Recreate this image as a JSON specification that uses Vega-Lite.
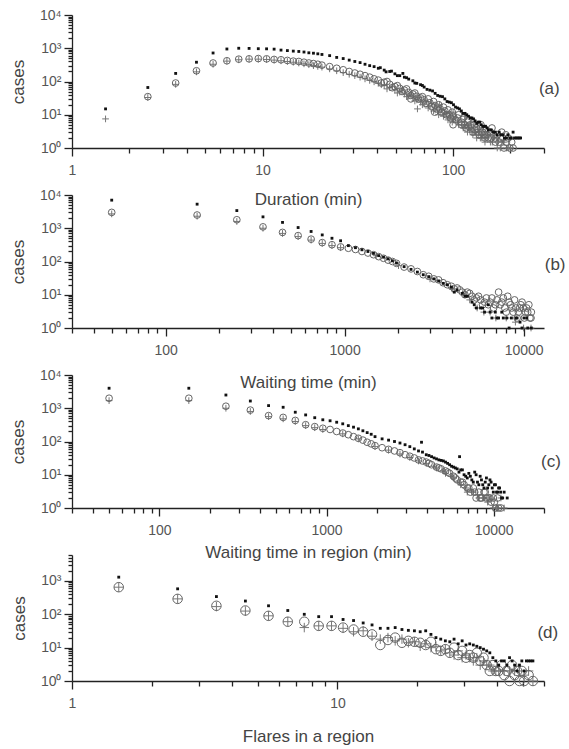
{
"$schema": "https://vega.github.io/schema/vega-lite/v6.json",
"padding": {"left": 9, "top": 8, "right": 0, "bottom": 4},
"bounds": "flush",
"spacing": 47,
"config": {
  "view": {"stroke": null},
  "font": "Liberation Sans",
  "axis": {"labelFont": "Liberation Sans", "titleFont": "Liberation Sans", "labelColor": "#555", "titleColor": "#444", "domainColor": "#222", "tickColor": "#222", "grid": false, "titleFontWeight": "normal", "labelFontSize": 14, "titleFontSize": 17, "labelOverlap": false, "labelFlush": false, "domainWidth": 1.3, "tickWidth": 1.3},
  "axisY": {"labelPadding": 3, "titlePadding": 12},
  "axisX": {"labelPadding": 7}
},
"datasets": {
"af": [{"x":1.5,"y":15},{"x":2.5,"y":66},{"x":3.5,"y":175},{"x":4.5,"y":380},{"x":5.5,"y":720},{"x":6.5,"y":950},{"x":7.5,"y":1000},{"x":8.5,"y":990},{"x":9.5,"y":970},{"x":10.5,"y":960},{"x":11.5,"y":940},{"x":12.5,"y":880},{"x":13.5,"y":850},{"x":14.5,"y":820},{"x":15.5,"y":800},{"x":16.5,"y":770},{"x":17.5,"y":730},{"x":18.5,"y":710},{"x":19.5,"y":680},{"x":20.5,"y":650},{"x":22.5,"y":600},{"x":24.5,"y":530},{"x":26.5,"y":490},{"x":28.5,"y":440},{"x":30.5,"y":400},{"x":32.5,"y":370},{"x":34.5,"y":330},{"x":36.5,"y":300},{"x":38.5,"y":280},{"x":40.5,"y":250},{"x":43.5,"y":220},{"x":46.5,"y":200},{"x":49.5,"y":170},{"x":52.5,"y":150},{"x":54.5,"y":175},{"x":55.5,"y":135},{"x":58.5,"y":118},{"x":61.5,"y":105},{"x":64.5,"y":88},{"x":67.5,"y":80},{"x":70.5,"y":68},{"x":75.5,"y":55},{"x":80.5,"y":44},{"x":85.5,"y":36},{"x":90.5,"y":30},{"x":95.5,"y":24},{"x":100.5,"y":20},{"x":105.5,"y":16},{"x":110.5,"y":13},{"x":115.5,"y":11},{"x":120.5,"y":9},{"x":125.5,"y":8},{"x":130.5,"y":6.5},{"x":135.5,"y":6},{"x":140.5,"y":5},{"x":145.5,"y":4.5},{"x":150.5,"y":4},{"x":158.5,"y":3.5},{"x":166.5,"y":3},{"x":174.5,"y":3},{"x":182.5,"y":2.5},{"x":190.5,"y":2},{"x":198.5,"y":2},{"x":206.5,"y":3},{"x":214.5,"y":2},{"x":222.5,"y":2},
 {"x":41.5,"y":260},{"x":44.5,"y":195},{"x":47.5,"y":205},{"x":51,"y":150},{"x":57,"y":130},{"x":63,"y":90},{"x":69,"y":76},{"x":73,"y":58},{"x":78,"y":52},{"x":83,"y":38},{"x":88,"y":35},{"x":93,"y":25},{"x":98,"y":23},{"x":103,"y":17},{"x":108,"y":15},{"x":113,"y":11},{"x":118,"y":10},{"x":123,"y":8},{"x":128,"y":7.5},{"x":133,"y":5.5},{"x":138,"y":6},{"x":143,"y":4.5},{"x":148,"y":4.5},{"x":153,"y":3.5},{"x":162,"y":3},{"x":170,"y":2.5},{"x":178,"y":2.5},{"x":186,"y":2},{"x":194,"y":2.5},{"x":202,"y":2},{"x":210,"y":2},{"x":218,"y":2},{"x":226,"y":2}],
"ac": [{"x":2.5,"y":35},{"x":3.5,"y":90},{"x":4.5,"y":210},{"x":5.5,"y":360},{"x":6.5,"y":420},{"x":7.5,"y":470},{"x":8.5,"y":480},{"x":9.5,"y":490},{"x":10.5,"y":480},{"x":11.5,"y":460},{"x":12.5,"y":450},{"x":13.5,"y":430},{"x":14.5,"y":410},{"x":15.5,"y":400},{"x":16.5,"y":380},{"x":17.5,"y":360},{"x":18.5,"y":345},{"x":19.5,"y":330},{"x":20.5,"y":310},{"x":22.5,"y":280},{"x":24.5,"y":250},{"x":26.5,"y":225},{"x":28.5,"y":200},{"x":30.5,"y":180},{"x":32.5,"y":165},{"x":34.5,"y":150},{"x":36.5,"y":135},{"x":38.5,"y":120},{"x":40.5,"y":110},{"x":43.5,"y":95},{"x":46.5,"y":82},{"x":49.5,"y":70},{"x":52.5,"y":62},{"x":55.5,"y":55},{"x":58.5,"y":47},{"x":60,"y":30},{"x":61.5,"y":42},{"x":64.5,"y":36},{"x":67.5,"y":32},{"x":70.5,"y":28},{"x":75.5,"y":23},{"x":80,"y":12},{"x":80.5,"y":19},{"x":85.5,"y":15},{"x":90.5,"y":13},{"x":95.5,"y":10},{"x":100,"y":5},{"x":100.5,"y":9},{"x":105.5,"y":8},{"x":110.5,"y":6},{"x":115.5,"y":5},{"x":120,"y":7},{"x":120.5,"y":4.5},{"x":125.5,"y":4},{"x":130.5,"y":3.5},{"x":135.5,"y":3},{"x":140,"y":5},{"x":140.5,"y":3},{"x":145.5,"y":2.5},{"x":150.5,"y":2.5},{"x":158.5,"y":2},{"x":160,"y":4},{"x":166.5,"y":2},{"x":174.5,"y":1.5},{"x":180,"y":3},{"x":182.5,"y":2},{"x":190.5,"y":1.5},{"x":198.5,"y":1},{"x":206.5,"y":1},
 {"x":42,"y":90},{"x":45,"y":100},{"x":48,"y":65},{"x":51,"y":75},{"x":54,"y":50},{"x":57,"y":60},{"x":60,"y":38},{"x":63,"y":45},{"x":66,"y":30},{"x":69,"y":35},{"x":72,"y":22},{"x":74,"y":30},{"x":77,"y":18},{"x":79,"y":25},{"x":82,"y":15},{"x":84,"y":20},{"x":87,"y":12},{"x":89,"y":17},{"x":92,"y":10},{"x":94,"y":14},{"x":97,"y":8},{"x":99,"y":12},{"x":103,"y":7},{"x":107,"y":10},{"x":111,"y":5},{"x":113,"y":8},{"x":117,"y":4},{"x":119,"y":6},{"x":123,"y":5},{"x":127,"y":3},{"x":129,"y":5},{"x":133,"y":4},{"x":137,"y":2.5},{"x":139,"y":4},{"x":143,"y":3},{"x":147,"y":2},{"x":149,"y":3.5},{"x":153,"y":2},{"x":157,"y":3},{"x":163,"y":2.5},{"x":167,"y":1.5},{"x":171,"y":2.5},{"x":177,"y":2},{"x":185,"y":1},{"x":189,"y":2.5},{"x":195,"y":2},{"x":203,"y":1.5}],
"ap": [{"x":1.5,"y":7.5},{"x":2.5,"y":33},{"x":3.5,"y":82},{"x":4.5,"y":195},{"x":5.5,"y":330},{"x":6.5,"y":410},{"x":7.5,"y":450},{"x":8.5,"y":470},{"x":9.5,"y":470},{"x":10.5,"y":460},{"x":11.5,"y":440},{"x":12.5,"y":420},{"x":13.5,"y":400},{"x":14.5,"y":380},{"x":15.5,"y":360},{"x":16.5,"y":340},{"x":17.5,"y":320},{"x":18.5,"y":300},{"x":19.5,"y":285},{"x":20.5,"y":270},{"x":22.5,"y":240},{"x":24.5,"y":210},{"x":26.5,"y":185},{"x":28.5,"y":165},{"x":30.5,"y":150},{"x":32.5,"y":135},{"x":34.5,"y":120},{"x":36.5,"y":108},{"x":38.5,"y":98},{"x":40.5,"y":88},{"x":43.5,"y":75},{"x":46.5,"y":65},{"x":49.5,"y":56},{"x":52.5,"y":48},{"x":55.5,"y":42},{"x":58.5,"y":36},{"x":61.5,"y":32},{"x":64.5,"y":28},{"x":65,"y":15},{"x":67.5,"y":24},{"x":70.5,"y":21},{"x":75.5,"y":18},{"x":80.5,"y":14},{"x":85,"y":20},{"x":85.5,"y":12},{"x":90.5,"y":10},{"x":95.5,"y":8},{"x":100,"y":12},{"x":100.5,"y":7},{"x":105.5,"y":6},{"x":110.5,"y":5},{"x":115,"y":9},{"x":115.5,"y":4},{"x":120.5,"y":4},{"x":125.5,"y":3},{"x":130,"y":6},{"x":130.5,"y":3},{"x":135.5,"y":2.5},{"x":140.5,"y":2},{"x":145.5,"y":2},{"x":150.5,"y":2},{"x":160.5,"y":1.5},{"x":170.5,"y":1},{"x":180.5,"y":1.5},{"x":190.5,"y":1},{"x":200.5,"y":1},
 {"x":42,"y":80},{"x":45,"y":60},{"x":48,"y":70},{"x":51,"y":45},{"x":54,"y":55},{"x":57,"y":35},{"x":60,"y":42},{"x":63,"y":26},{"x":66,"y":33},{"x":69,"y":20},{"x":72,"y":25},{"x":74,"y":16},{"x":77,"y":22},{"x":79,"y":13},{"x":82,"y":17},{"x":84,"y":10},{"x":87,"y":14},{"x":89,"y":9},{"x":92,"y":11},{"x":94,"y":7},{"x":97,"y":9},{"x":99,"y":6},{"x":103,"y":8},{"x":107,"y":5},{"x":111,"y":6},{"x":113,"y":4},{"x":117,"y":5},{"x":119,"y":3},{"x":123,"y":4},{"x":127,"y":2.5},{"x":129,"y":3},{"x":133,"y":2},{"x":137,"y":3},{"x":139,"y":2},{"x":143,"y":2.5},{"x":147,"y":1.5},{"x":153,"y":2.5},{"x":157,"y":1.5},{"x":163,"y":2},{"x":171,"y":1.5},{"x":177,"y":1},{"x":185,"y":1.5},{"x":195,"y":1}],
"bf": [{"x":50,"y":7000},{"x":150,"y":5300},{"x":250,"y":3400},{"x":350,"y":2200},{"x":450,"y":1500},{"x":550,"y":1050},{"x":650,"y":800},{"x":750,"y":630},{"x":850,"y":500},{"x":950,"y":420},{"x":1050,"y":300},{"x":1150,"y":260},{"x":1250,"y":225},{"x":1350,"y":200},{"x":1450,"y":175},{"x":1550,"y":150},{"x":1650,"y":135},{"x":1750,"y":120},{"x":1850,"y":105},{"x":1950,"y":90},{"x":2150,"y":70},{"x":2350,"y":58},{"x":2550,"y":48},{"x":2750,"y":40},{"x":2950,"y":35},{"x":3150,"y":30},{"x":3350,"y":26},{"x":3550,"y":22},{"x":3750,"y":20},{"x":3950,"y":17},{"x":4250,"y":14},{"x":4550,"y":11},{"x":4850,"y":9},{"x":5150,"y":6},{"x":5450,"y":4},{"x":5750,"y":4},{"x":6050,"y":3},{"x":6350,"y":5},{"x":6650,"y":2},{"x":6950,"y":3},{"x":7250,"y":2},{"x":7550,"y":3},{"x":8050,"y":2},{"x":8550,"y":2},{"x":9050,"y":2},{"x":9550,"y":1.5},{"x":10050,"y":2},{"x":10550,"y":1},{"x":11050,"y":1},
 {"x":4100,"y":12},{"x":4700,"y":9},{"x":5300,"y":5},{"x":5900,"y":4},{"x":6500,"y":3},{"x":7100,"y":2},{"x":7700,"y":2},{"x":8300,"y":1},{"x":9200,"y":2},{"x":9800,"y":1},{"x":10400,"y":2}],
"bc": [{"x":50,"y":3000},{"x":150,"y":2500},{"x":250,"y":1800},{"x":350,"y":1100},{"x":450,"y":750},{"x":550,"y":600},{"x":650,"y":470},{"x":750,"y":370},{"x":850,"y":320},{"x":950,"y":275},{"x":1050,"y":250},{"x":1150,"y":230},{"x":1250,"y":200},{"x":1350,"y":180},{"x":1450,"y":160},{"x":1550,"y":140},{"x":1650,"y":125},{"x":1750,"y":110},{"x":1850,"y":100},{"x":1950,"y":88},{"x":2150,"y":68},{"x":2350,"y":60},{"x":2550,"y":50},{"x":2750,"y":40},{"x":2950,"y":36},{"x":3150,"y":30},{"x":3350,"y":28},{"x":3550,"y":23},{"x":3750,"y":20},{"x":3950,"y":18},{"x":4250,"y":16},{"x":4550,"y":12},{"x":4850,"y":12},{"x":5150,"y":9},{"x":5450,"y":8},{"x":5750,"y":7},{"x":6050,"y":6},{"x":6350,"y":5},{"x":6650,"y":8},{"x":6950,"y":5},{"x":7250,"y":12},{"x":7550,"y":6},{"x":7850,"y":4},{"x":8150,"y":9},{"x":8450,"y":5},{"x":8750,"y":3},{"x":9050,"y":4},{"x":9350,"y":3},{"x":9650,"y":5},{"x":9950,"y":4},{"x":10250,"y":3},{"x":10550,"y":3},{"x":10850,"y":2},{"x":11050,"y":3},
 {"x":4100,"y":15},{"x":4400,"y":14},{"x":4700,"y":10},{"x":5000,"y":11},{"x":5300,"y":7},{"x":5600,"y":9},{"x":5900,"y":5},{"x":6200,"y":8},{"x":6500,"y":6},{"x":6800,"y":4},{"x":7100,"y":7},{"x":7400,"y":5},{"x":7700,"y":8},{"x":8000,"y":3},{"x":8300,"y":6},{"x":8600,"y":4},{"x":8900,"y":7},{"x":9200,"y":2},{"x":9500,"y":4},{"x":9800,"y":6},{"x":10100,"y":2},{"x":10400,"y":4},{"x":10700,"y":5},{"x":11000,"y":2}],
"bp": [{"x":50,"y":2700},{"x":150,"y":2300},{"x":250,"y":1600},{"x":350,"y":1000},{"x":450,"y":700},{"x":550,"y":560},{"x":650,"y":440},{"x":750,"y":350},{"x":850,"y":300},{"x":950,"y":260},{"x":1500,"y":150},{"x":2000,"y":75},{"x":3000,"y":30},{"x":4000,"y":15},{"x":5000,"y":7},{"x":5500,"y":4},{"x":6000,"y":3},{"x":6500,"y":3},{"x":7000,"y":2},{"x":8000,"y":2},{"x":9000,"y":1.5},{"x":10000,"y":1},{"x":11000,"y":1}],
"cf": [{"x":50,"y":4000},{"x":150,"y":4000},{"x":250,"y":2500},{"x":350,"y":1650},{"x":450,"y":1200},{"x":550,"y":1070},{"x":650,"y":760},{"x":750,"y":630},{"x":850,"y":520},{"x":950,"y":450},{"x":1050,"y":420},{"x":1150,"y":380},{"x":1250,"y":340},{"x":1350,"y":300},{"x":1450,"y":270},{"x":1550,"y":240},{"x":1650,"y":210},{"x":1750,"y":185},{"x":1850,"y":165},{"x":1950,"y":140},{"x":2150,"y":120},{"x":2350,"y":110},{"x":2550,"y":100},{"x":2750,"y":90},{"x":2950,"y":80},{"x":3150,"y":70},{"x":3350,"y":60},{"x":3550,"y":52},{"x":3700,"y":95},{"x":3750,"y":48},{"x":3950,"y":40},{"x":4250,"y":35},{"x":4550,"y":30},{"x":4850,"y":27},{"x":5150,"y":24},{"x":5450,"y":20},{"x":5750,"y":17},{"x":6050,"y":15},{"x":6250,"y":35},{"x":6350,"y":14},{"x":6650,"y":10},{"x":6950,"y":8},{"x":7250,"y":9},{"x":7550,"y":6},{"x":7850,"y":10},{"x":8150,"y":5},{"x":8450,"y":7},{"x":8750,"y":4},{"x":9050,"y":8},{"x":9350,"y":5},{"x":9650,"y":6},{"x":9950,"y":3},{"x":10250,"y":5},{"x":10550,"y":3},{"x":10850,"y":4},{"x":11150,"y":2},{"x":11550,"y":3},{"x":12050,"y":2},
 {"x":4100,"y":38},{"x":4400,"y":32},{"x":4700,"y":28},{"x":5000,"y":26},{"x":5300,"y":22},{"x":5600,"y":18},{"x":5900,"y":16},{"x":6200,"y":12},{"x":6500,"y":14},{"x":6800,"y":9},{"x":7100,"y":11},{"x":7400,"y":7},{"x":7700,"y":12},{"x":8000,"y":6},{"x":8300,"y":9},{"x":8600,"y":5},{"x":8900,"y":6},{"x":9200,"y":4},{"x":9500,"y":7},{"x":9800,"y":4},{"x":10100,"y":5},{"x":10400,"y":3},{"x":10700,"y":4},{"x":11000,"y":3},{"x":11300,"y":2}],
"cc": [{"x":50,"y":2000},{"x":150,"y":2000},{"x":250,"y":1150},{"x":350,"y":880},{"x":450,"y":600},{"x":550,"y":530},{"x":650,"y":430},{"x":750,"y":320},{"x":850,"y":280},{"x":950,"y":250},{"x":1050,"y":230},{"x":1150,"y":200},{"x":1250,"y":180},{"x":1350,"y":160},{"x":1450,"y":140},{"x":1550,"y":125},{"x":1650,"y":110},{"x":1750,"y":95},{"x":1850,"y":85},{"x":1950,"y":75},{"x":2150,"y":65},{"x":2350,"y":58},{"x":2550,"y":52},{"x":2750,"y":46},{"x":2950,"y":40},{"x":3150,"y":36},{"x":3350,"y":32},{"x":3550,"y":28},{"x":3750,"y":26},{"x":3950,"y":24},{"x":4250,"y":20},{"x":4550,"y":17},{"x":4850,"y":15},{"x":5150,"y":13},{"x":5450,"y":11},{"x":5750,"y":9},{"x":6050,"y":7},{"x":6350,"y":6},{"x":6650,"y":5},{"x":6950,"y":4},{"x":7250,"y":3},{"x":7550,"y":4},{"x":7850,"y":2},{"x":8150,"y":3},{"x":8450,"y":2},{"x":8750,"y":3},{"x":9050,"y":2},{"x":9350,"y":2},{"x":9650,"y":1.5},{"x":9950,"y":2},{"x":10250,"y":1},{"x":10550,"y":2},{"x":11050,"y":1},
 {"x":4100,"y":22},{"x":4700,"y":16},{"x":5300,"y":12},{"x":5900,"y":8},{"x":6500,"y":6},{"x":7100,"y":4},{"x":7700,"y":3},{"x":8300,"y":2},{"x":8900,"y":3},{"x":9500,"y":2},{"x":10100,"y":1.5},{"x":10700,"y":1}],
"cp": [{"x":50,"y":1700},{"x":150,"y":1700},{"x":250,"y":1000},{"x":350,"y":800},{"x":450,"y":560},{"x":550,"y":480},{"x":650,"y":400},{"x":750,"y":300},{"x":850,"y":260},{"x":950,"y":230},{"x":1250,"y":170},{"x":1550,"y":120},{"x":1950,"y":70},{"x":2350,"y":55},{"x":2750,"y":42},{"x":3150,"y":33},{"x":3550,"y":26},{"x":3950,"y":22},{"x":4550,"y":16},{"x":5150,"y":11},{"x":5750,"y":8},{"x":6350,"y":5},{"x":6950,"y":3},{"x":7550,"y":3},{"x":8150,"y":2},{"x":8750,"y":2},{"x":9350,"y":2},{"x":9950,"y":1},{"x":10550,"y":1},{"x":11050,"y":2},{"x":11550,"y":1},
 {"x":4400,"y":18},{"x":5000,"y":13},{"x":5600,"y":9},{"x":6200,"y":6},{"x":6800,"y":4},{"x":7400,"y":3},{"x":8000,"y":2.5},{"x":8600,"y":2},{"x":9200,"y":1.5},{"x":10400,"y":1}],
"df": [{"x":1.5,"y":1300},{"x":2.5,"y":580},{"x":3.5,"y":340},{"x":4.5,"y":250},{"x":5.5,"y":180},{"x":6.5,"y":130},{"x":7.5,"y":100},{"x":8.5,"y":85},{"x":9.5,"y":85},{"x":10.5,"y":70},{"x":11.5,"y":65},{"x":12.5,"y":55},{"x":13.5,"y":48},{"x":14.5,"y":38},{"x":15.5,"y":38},{"x":16.5,"y":40},{"x":17.5,"y":35},{"x":18.5,"y":33},{"x":19.5,"y":32},{"x":20.5,"y":30},{"x":21.5,"y":32},{"x":22.5,"y":25},{"x":23.5,"y":20},{"x":24.5,"y":18},{"x":25.5,"y":16},{"x":26.5,"y":15},{"x":27.5,"y":18},{"x":28.5,"y":13},{"x":29.5,"y":16},{"x":30.5,"y":12},{"x":31.5,"y":13},{"x":32.5,"y":12},{"x":33.5,"y":11},{"x":34.5,"y":10},{"x":35.5,"y":9},{"x":36.5,"y":8},{"x":37.5,"y":7},{"x":38.5,"y":5},{"x":39.5,"y":4},{"x":40.5,"y":3},{"x":41.5,"y":4},{"x":42.5,"y":4},{"x":43.5,"y":3},{"x":44.5,"y":5},{"x":45.5,"y":4},{"x":46.5,"y":3},{"x":47.5,"y":2},{"x":48.5,"y":3},{"x":49.5,"y":4},{"x":50.5,"y":2},{"x":51.5,"y":4},{"x":52.5,"y":4},{"x":53.5,"y":4},{"x":54.5,"y":4}],
"dc": [{"x":1.5,"y":650},{"x":2.5,"y":290},{"x":3.5,"y":180},{"x":4.5,"y":130},{"x":5.5,"y":90},{"x":6.5,"y":60},{"x":7.5,"y":60},{"x":8.5,"y":45},{"x":9.5,"y":45},{"x":10.5,"y":40},{"x":11.5,"y":35},{"x":12.5,"y":30},{"x":13.5,"y":25},{"x":14.5,"y":12},{"x":15.5,"y":17},{"x":16.5,"y":20},{"x":17.5,"y":14},{"x":18.5,"y":16},{"x":19.5,"y":15},{"x":20.5,"y":14},{"x":21.5,"y":12},{"x":22.5,"y":15},{"x":23.5,"y":9},{"x":24.5,"y":8},{"x":25.5,"y":9},{"x":26.5,"y":7},{"x":27.5,"y":10},{"x":28.5,"y":6},{"x":29.5,"y":8},{"x":30.5,"y":5},{"x":31.5,"y":6},{"x":32.5,"y":5},{"x":33.5,"y":7},{"x":34.5,"y":4},{"x":35.5,"y":5},{"x":36.5,"y":3},{"x":37.5,"y":2},{"x":38.5,"y":3},{"x":39.5,"y":2},{"x":40.5,"y":2},{"x":41.5,"y":3},{"x":42.5,"y":1.5},{"x":43.5,"y":2},{"x":44.5,"y":1},{"x":45.5,"y":3},{"x":46.5,"y":1.5},{"x":47.5,"y":2},{"x":48.5,"y":1},{"x":49.5,"y":2},{"x":50.5,"y":1},{"x":52.5,"y":1.5},{"x":54.5,"y":1}],
"dp": [{"x":1.5,"y":650},{"x":2.5,"y":290},{"x":3.5,"y":170},{"x":4.5,"y":125},{"x":5.5,"y":90},{"x":6.5,"y":60},{"x":7.5,"y":40},{"x":8.5,"y":45},{"x":9.5,"y":45},{"x":10.5,"y":38},{"x":11.5,"y":30},{"x":12.5,"y":32},{"x":13.5,"y":22},{"x":14.5,"y":18},{"x":15.5,"y":20},{"x":16.5,"y":16},{"x":17.5,"y":18},{"x":18.5,"y":14},{"x":19.5,"y":15},{"x":20.5,"y":11},{"x":21.5,"y":13},{"x":22.5,"y":10},{"x":23.5,"y":11},{"x":24.5,"y":8},{"x":25.5,"y":9},{"x":26.5,"y":7},{"x":27.5,"y":6},{"x":28.5,"y":8},{"x":29.5,"y":5},{"x":30.5,"y":6},{"x":31.5,"y":5},{"x":32.5,"y":4},{"x":33.5,"y":5},{"x":34.5,"y":3},{"x":35.5,"y":4},{"x":36.5,"y":3},{"x":37.5,"y":3},{"x":38.5,"y":2},{"x":39.5,"y":2},{"x":40.5,"y":2},{"x":42.5,"y":2},{"x":44.5,"y":2},{"x":46.5,"y":2},{"x":48.5,"y":2},{"x":50.5,"y":1.5},{"x":52.5,"y":2},{"x":54.5,"y":1}],
"la": [{"t":"(a)","x":320,"y":60}], "lb": [{"t":"(b)","x":15000,"y":80}], "lc": [{"t":"(c)","x":22000,"y":25}], "ld": [{"t":"(d)","x":62,"y":28}]
},
"vconcat": [
  {"width": 472, "height": 133,
   "encoding": {
    "x": {"field": "x", "type": "quantitative", "scale": {"type": "log", "domain": [1, 300], "nice": false},
      "axis": {"title": "Duration (min)", "titlePadding": 14, "values": [1,2,3,4,5,6,7,8,9,10,20,30,40,50,60,70,80,90,100,200,300],
        "labelExpr": "abs(log(datum.value)/LN10-round(log(datum.value)/LN10))<0.001 ? format(datum.value,'d') : ''",
        "tickSize": {"condition": {"test": "abs(log(datum.value)/LN10-round(log(datum.value)/LN10))<0.001", "value": 8}, "value": 5}}},
    "y": {"field": "y", "type": "quantitative", "scale": {"type": "log", "domain": [1, 10000], "nice": false},
      "axis": {"title": "cases", "values": [1,2,3,4,5,6,7,8,9,10,20,30,40,50,60,70,80,90,100,200,300,400,500,600,700,800,900,1000,2000,3000,4000,5000,6000,7000,8000,9000,10000],
        "labelExpr": "abs(log(datum.value)/LN10-round(log(datum.value)/LN10))<0.001 ? '10' + ['⁰','¹','²','³','⁴'][round(log(datum.value)/LN10)] : ''",
        "tickSize": {"condition": {"test": "abs(log(datum.value)/LN10-round(log(datum.value)/LN10))<0.001", "value": 8}, "value": 4}}}
   },
   "layer": [
    {"data": {"name": "ap"}, "mark": {"type": "point", "shape": "M-1,0H1M0,-1V1", "size": 45, "filled": false, "stroke": "#777", "strokeWidth": 1, "opacity": 1}},
    {"data": {"name": "ac"}, "mark": {"type": "point", "shape": "circle", "size": 45, "filled": false, "stroke": "#666", "strokeWidth": 1, "opacity": 1}},
    {"data": {"name": "af"}, "mark": {"type": "point", "shape": "square", "size": 8, "filled": true, "color": "#111", "opacity": 1}},
    {"data": {"name": "la"}, "mark": {"type": "text", "fontSize": 17, "font": "Liberation Sans", "color": "#444", "align": "center", "baseline": "middle"},
     "encoding": {"text": {"field": "t"}}}
   ]},
  {"width": 472, "height": 133,
   "encoding": {
    "x": {"field": "x", "type": "quantitative", "scale": {"type": "log", "domain": [30, 13000], "nice": false},
      "axis": {"title": "Waiting time (min)", "titlePadding": 17, "values": [30,40,50,60,70,80,90,100,200,300,400,500,600,700,800,900,1000,2000,3000,4000,5000,6000,7000,8000,9000,10000],
        "labelExpr": "abs(log(datum.value)/LN10-round(log(datum.value)/LN10))<0.001 ? format(datum.value,'d') : ''",
        "tickSize": {"condition": {"test": "abs(log(datum.value)/LN10-round(log(datum.value)/LN10))<0.001", "value": 8}, "value": 5}}},
    "y": {"field": "y", "type": "quantitative", "scale": {"type": "log", "domain": [1, 10000], "nice": false},
      "axis": {"title": "cases", "values": [1,2,3,4,5,6,7,8,9,10,20,30,40,50,60,70,80,90,100,200,300,400,500,600,700,800,900,1000,2000,3000,4000,5000,6000,7000,8000,9000,10000],
        "labelExpr": "abs(log(datum.value)/LN10-round(log(datum.value)/LN10))<0.001 ? '10' + ['⁰','¹','²','³','⁴'][round(log(datum.value)/LN10)] : ''",
        "tickSize": {"condition": {"test": "abs(log(datum.value)/LN10-round(log(datum.value)/LN10))<0.001", "value": 8}, "value": 4}}}
   },
   "layer": [
    {"data": {"name": "bp"}, "mark": {"type": "point", "shape": "M-1,0H1M0,-1V1", "size": 45, "filled": false, "stroke": "#777", "strokeWidth": 1, "opacity": 1}},
    {"data": {"name": "bc"}, "mark": {"type": "point", "shape": "circle", "size": 45, "filled": false, "stroke": "#666", "strokeWidth": 1, "opacity": 1}},
    {"data": {"name": "bf"}, "mark": {"type": "point", "shape": "square", "size": 8, "filled": true, "color": "#111", "opacity": 1}},
    {"data": {"name": "lb"}, "mark": {"type": "text", "fontSize": 17, "font": "Liberation Sans", "color": "#444", "align": "center", "baseline": "middle"},
     "encoding": {"text": {"field": "t"}}}
   ]},
  {"width": 472, "height": 133,
   "encoding": {
    "x": {"field": "x", "type": "quantitative", "scale": {"type": "log", "domain": [30, 20000], "nice": false},
      "axis": {"title": "Waiting time in region (min)", "titlePadding": 7, "values": [30,40,50,60,70,80,90,100,200,300,400,500,600,700,800,900,1000,2000,3000,4000,5000,6000,7000,8000,9000,10000,20000],
        "labelExpr": "abs(log(datum.value)/LN10-round(log(datum.value)/LN10))<0.001 ? format(datum.value,'d') : ''",
        "tickSize": {"condition": {"test": "abs(log(datum.value)/LN10-round(log(datum.value)/LN10))<0.001", "value": 8}, "value": 5}}},
    "y": {"field": "y", "type": "quantitative", "scale": {"type": "log", "domain": [1, 10000], "nice": false},
      "axis": {"title": "cases", "values": [1,2,3,4,5,6,7,8,9,10,20,30,40,50,60,70,80,90,100,200,300,400,500,600,700,800,900,1000,2000,3000,4000,5000,6000,7000,8000,9000,10000],
        "labelExpr": "abs(log(datum.value)/LN10-round(log(datum.value)/LN10))<0.001 ? '10' + ['⁰','¹','²','³','⁴'][round(log(datum.value)/LN10)] : ''",
        "tickSize": {"condition": {"test": "abs(log(datum.value)/LN10-round(log(datum.value)/LN10))<0.001", "value": 8}, "value": 4}}}
   },
   "layer": [
    {"data": {"name": "cp"}, "mark": {"type": "point", "shape": "M-1,0H1M0,-1V1", "size": 45, "filled": false, "stroke": "#777", "strokeWidth": 1, "opacity": 1}},
    {"data": {"name": "cc"}, "mark": {"type": "point", "shape": "circle", "size": 45, "filled": false, "stroke": "#666", "strokeWidth": 1, "opacity": 1}},
    {"data": {"name": "cf"}, "mark": {"type": "point", "shape": "square", "size": 8, "filled": true, "color": "#111", "opacity": 1}},
    {"data": {"name": "lc"}, "mark": {"type": "text", "fontSize": 17, "font": "Liberation Sans", "color": "#444", "align": "center", "baseline": "middle"},
     "encoding": {"text": {"field": "t"}}}
   ]},
 {"width": 472, "height": 126,
  "encoding": {
   "x": {"field": "x", "type": "quantitative", "scale": {"type": "log", "domain": [1, 60], "nice": false},
     "axis": {"title": "Flares in a region", "titlePadding": 18, "values": [1,2,3,4,5,6,7,8,9,10,20,30,40,50,60],
       "labelExpr": "abs(log(datum.value)/LN10-round(log(datum.value)/LN10))<0.001 ? format(datum.value,'d') : ''",
       "tickSize": {"condition": {"test": "abs(log(datum.value)/LN10-round(log(datum.value)/LN10))<0.001", "value": 8}, "value": 5}}},
   "y": {"field": "y", "type": "quantitative", "scale": {"type": "log", "domain": [1, 6000], "nice": false},
     "axis": {"title": "cases", "values": [1,2,3,4,5,6,7,8,9,10,20,30,40,50,60,70,80,90,100,200,300,400,500,600,700,800,900,1000,2000,3000,4000,5000,6000],
       "labelExpr": "abs(log(datum.value)/LN10-round(log(datum.value)/LN10))<0.001 ? '10' + ['⁰','¹','²','³','⁴'][round(log(datum.value)/LN10)] : ''",
       "tickSize": {"condition": {"test": "abs(log(datum.value)/LN10-round(log(datum.value)/LN10))<0.001", "value": 8}, "value": 4}}}
  },
  "layer": [
   {"data": {"name": "dp"}, "mark": {"type": "point", "shape": "M-1,0H1M0,-1V1", "size": 90, "filled": false, "stroke": "#777", "strokeWidth": 1, "opacity": 1}},
   {"data": {"name": "dc"}, "mark": {"type": "point", "shape": "circle", "size": 90, "filled": false, "stroke": "#666", "strokeWidth": 1, "opacity": 1}},
   {"data": {"name": "df"}, "mark": {"type": "point", "shape": "square", "size": 8, "filled": true, "color": "#111", "opacity": 1}},
   {"data": {"name": "ld"}, "mark": {"type": "text", "fontSize": 17, "font": "Liberation Sans", "color": "#444", "align": "center", "baseline": "middle"},
    "encoding": {"text": {"field": "t"}}}
  ]}
]
}
